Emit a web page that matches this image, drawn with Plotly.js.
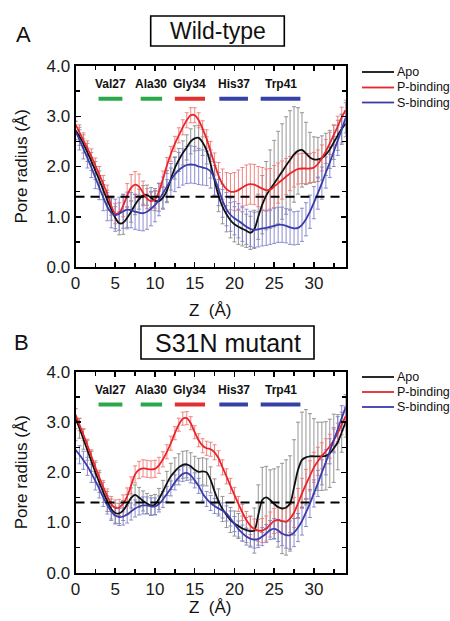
<!DOCTYPE html>
<html>
<head>
<meta charset="utf-8">
<script src="https://cdn.plot.ly/plotly-3.0.1.min.js"></script>
<style>html,body{margin:0;padding:0;background:#fff;}#chart{width:450px;height:621px;}</style>
</head>
<body>
<div id="chart"></div>
<script>
// ---------- DATA ----------
const z = [0,0.5,1,1.5,2,2.5,3,3.5,4,4.5,5,5.5,6,6.5,7,7.5,8,8.5,9,9.5,10,10.5,11,11.5,12,12.5,13,13.5,14,14.5,15,15.5,16,16.5,17,17.5,18,18.5,19,19.5,20,20.5,21,21.5,22,22.5,23,23.5,24,24.5,25,25.5,26,26.5,27,27.5,28,28.5,29,29.5,30,30.5,31,31.5,32,32.5,33,33.5,34];

const seriesNames = ["Apo", "P-binding", "S-binding"];

// Panel A: Wild-type
const wtApo = [2.72,2.6,2.45,2.28,2.1,1.92,1.73,1.53,1.33,1.15,
  0.98,0.87,0.88,0.98,1.1,1.24,1.35,1.42,1.43,1.38,
  1.32,1.31,1.38,1.52,1.75,1.97,2.13,2.27,2.38,2.5,
  2.56,2.57,2.48,2.32,2.05,1.72,1.42,1.2,1.05,0.93,
  0.85,0.8,0.76,0.72,0.68,0.75,1.0,1.24,1.42,1.55,
  1.66,1.78,1.9,2.02,2.13,2.24,2.31,2.33,2.26,2.18,
  2.14,2.14,2.17,2.24,2.34,2.48,2.62,2.75,2.85];
const wtApoErr = [0.18,0.18,0.18,0.18,0.18,0.18,0.18,0.19,0.2,0.22,
  0.22,0.23,0.23,0.22,0.21,0.2,0.2,0.2,0.2,0.2,
  0.2,0.2,0.21,0.22,0.22,0.22,0.23,0.24,0.25,0.25,
  0.25,0.25,0.26,0.27,0.28,0.3,0.32,0.34,0.35,0.35,
  0.35,0.35,0.34,0.33,0.33,0.38,0.45,0.58,0.68,0.78,
  0.86,0.92,0.95,0.97,0.98,0.95,0.86,0.74,0.62,0.5,
  0.45,0.44,0.44,0.42,0.38,0.34,0.3,0.28,0.26];
const wtP = [2.84,2.68,2.52,2.36,2.2,2.02,1.84,1.65,1.45,1.22,
  1.06,1.08,1.22,1.42,1.58,1.64,1.6,1.48,1.36,1.31,
  1.34,1.5,1.75,2.02,2.25,2.45,2.62,2.78,2.92,3.02,
  3.02,2.92,2.75,2.55,2.3,2.05,1.82,1.65,1.55,1.5,
  1.5,1.53,1.58,1.63,1.65,1.64,1.6,1.56,1.53,1.54,
  1.6,1.67,1.73,1.8,1.86,1.91,1.95,1.96,1.96,1.96,
  1.98,2.05,2.17,2.3,2.46,2.63,2.8,2.98,3.12];
const wtPErr = [0.15,0.15,0.15,0.15,0.15,0.15,0.16,0.17,0.18,0.19,
  0.2,0.2,0.22,0.24,0.26,0.26,0.25,0.23,0.2,0.18,
  0.17,0.17,0.16,0.16,0.15,0.15,0.15,0.15,0.15,0.15,
  0.15,0.15,0.16,0.18,0.2,0.22,0.26,0.3,0.33,0.36,
  0.38,0.4,0.4,0.4,0.4,0.4,0.4,0.42,0.42,0.42,
  0.42,0.4,0.38,0.36,0.34,0.32,0.3,0.3,0.3,0.3,
  0.3,0.28,0.26,0.24,0.22,0.2,0.2,0.2,0.2];
const wtS = [2.7,2.53,2.35,2.17,1.98,1.78,1.58,1.38,1.2,1.08,
  1.03,1.06,1.11,1.14,1.13,1.1,1.08,1.07,1.1,1.16,
  1.23,1.34,1.47,1.6,1.73,1.84,1.93,1.99,2.03,2.04,
  2.03,2.0,1.98,1.96,1.9,1.76,1.55,1.32,1.15,1.04,
  0.97,0.92,0.86,0.8,0.76,0.74,0.75,0.77,0.78,0.8,
  0.82,0.84,0.84,0.82,0.79,0.77,0.78,0.84,0.95,1.1,
  1.28,1.47,1.67,1.88,2.08,2.3,2.52,2.74,2.97];
const wtSErr = [0.2,0.2,0.2,0.2,0.2,0.22,0.24,0.26,0.28,0.3,
  0.32,0.33,0.34,0.35,0.35,0.35,0.35,0.35,0.35,0.34,
  0.33,0.32,0.32,0.32,0.33,0.34,0.35,0.36,0.37,0.37,
  0.37,0.36,0.35,0.34,0.33,0.33,0.33,0.33,0.33,0.33,
  0.33,0.34,0.35,0.35,0.35,0.35,0.35,0.35,0.35,0.35,
  0.35,0.35,0.35,0.34,0.34,0.33,0.33,0.33,0.33,0.33,
  0.32,0.32,0.32,0.31,0.3,0.3,0.3,0.3,0.3];

// Panel B: S31N mutant
const mutApo = [3.07,2.88,2.66,2.44,2.22,2.0,1.8,1.6,1.42,1.27,
  1.19,1.18,1.24,1.36,1.49,1.55,1.5,1.43,1.38,1.34,
  1.36,1.47,1.62,1.78,1.92,2.02,2.1,2.15,2.16,2.12,
  2.05,2.01,2.02,2.0,1.85,1.62,1.42,1.27,1.15,1.05,
  0.98,0.93,0.88,0.85,0.83,0.84,1.15,1.45,1.5,1.45,
  1.37,1.31,1.28,1.3,1.38,1.7,2.05,2.25,2.3,2.32,
  2.32,2.32,2.32,2.33,2.38,2.48,2.6,2.8,3.0];
const mutApoErr = [0.2,0.2,0.2,0.2,0.2,0.2,0.2,0.2,0.2,0.2,
  0.2,0.2,0.2,0.2,0.2,0.2,0.2,0.2,0.2,0.2,
  0.2,0.21,0.22,0.24,0.26,0.27,0.27,0.27,0.27,0.27,
  0.27,0.27,0.27,0.27,0.26,0.25,0.25,0.25,0.25,0.25,
  0.25,0.25,0.25,0.25,0.3,0.45,0.6,0.65,0.62,0.6,
  0.7,0.8,0.9,0.95,0.95,0.95,0.95,0.95,0.95,0.85,
  0.75,0.68,0.68,0.68,0.68,0.68,0.55,0.4,0.3];
const mutP = [3.15,2.95,2.75,2.54,2.32,2.1,1.9,1.7,1.52,1.37,
  1.29,1.3,1.38,1.52,1.74,1.96,2.05,2.08,2.07,2.06,
  2.07,2.14,2.26,2.41,2.58,2.78,2.95,3.07,3.08,2.98,
  2.8,2.64,2.53,2.48,2.46,2.4,2.28,2.1,1.92,1.73,
  1.55,1.37,1.2,1.05,0.94,0.87,0.84,0.84,0.88,0.96,
  1.03,1.05,1.03,1.02,1.08,1.2,1.38,1.58,1.76,1.93,
  2.1,2.22,2.33,2.42,2.52,2.64,2.78,2.95,3.12];
const mutPErr = [0.12,0.12,0.12,0.12,0.13,0.13,0.14,0.14,0.15,0.15,
  0.16,0.16,0.17,0.17,0.17,0.17,0.17,0.17,0.17,0.17,
  0.17,0.16,0.15,0.14,0.14,0.13,0.13,0.13,0.13,0.13,
  0.13,0.13,0.14,0.14,0.14,0.15,0.15,0.15,0.15,0.15,
  0.15,0.15,0.16,0.17,0.18,0.2,0.22,0.24,0.25,0.25,
  0.25,0.25,0.26,0.27,0.28,0.3,0.3,0.3,0.3,0.3,
  0.3,0.28,0.26,0.25,0.24,0.22,0.2,0.2,0.2];
const mutS = [2.45,2.35,2.24,2.12,1.98,1.83,1.67,1.5,1.35,1.22,
  1.14,1.11,1.12,1.16,1.22,1.28,1.32,1.34,1.34,1.32,
  1.32,1.37,1.46,1.57,1.68,1.8,1.9,1.97,1.99,1.94,
  1.84,1.73,1.58,1.47,1.39,1.33,1.28,1.24,1.18,1.08,
  0.97,0.87,0.79,0.72,0.68,0.66,0.67,0.72,0.78,0.85,
  0.88,0.84,0.78,0.75,0.75,0.8,0.9,1.03,1.2,1.38,
  1.58,1.78,2.0,2.2,2.42,2.64,2.86,3.08,3.3];
const mutSErr = [0.18,0.18,0.18,0.18,0.18,0.18,0.18,0.18,0.18,0.18,
  0.17,0.17,0.17,0.17,0.17,0.17,0.17,0.17,0.17,0.17,
  0.17,0.16,0.16,0.15,0.15,0.15,0.15,0.15,0.15,0.15,
  0.15,0.15,0.15,0.15,0.15,0.15,0.15,0.15,0.15,0.15,
  0.15,0.16,0.16,0.17,0.17,0.17,0.17,0.18,0.18,0.19,
  0.2,0.22,0.24,0.26,0.28,0.28,0.28,0.28,0.28,0.28,
  0.27,0.26,0.25,0.25,0.25,0.25,0.25,0.25,0.25];

// Residue markers
const residueLabels = ["Val27", "Ala30", "Gly34", "His37", "Trp41"];
const residueStart = [2.9, 8.2, 12.5, 18.1, 23.3];
const residueEnd   = [5.9, 10.9, 16.3, 21.7, 28.3];
const residueColors = ["#2aa84a", "#2aa84a", "#e23030", "#3442a6", "#3442a6"];
const residueLabelY = 3.64;
const residueBarY = 3.35;
const waterRadius = 1.4;
const zRange = [0, 34];
const rRange = [0, 4];
const panelTitles = ["Wild-type", "S31N mutant"];
const panelLetters = ["A", "B"];

// ---------- STYLE ----------
const FONT = "Liberation Sans, Arial, Helvetica, sans-serif";
const lineColors = ["#111111", "#e8262a", "#3a3cab"];
const barColors  = ["#8a8a8a", "#f07878", "#7f80cc"];

const panels = [
  {vals: [wtApo, wtP, wtS], errs: [wtApoErr, wtPErr, wtSErr], xa: "x", ya: "y"},
  {vals: [mutApo, mutP, mutS], errs: [mutApoErr, mutPErr, mutSErr], xa: "x2", ya: "y2"}
];

const traces = [];
panels.forEach(p => {
  for (let k = 0; k < 3; k++) {
    traces.push({
      x: z, y: p.vals[k], xaxis: p.xa, yaxis: p.ya, type: "scatter", mode: "markers",
      marker: {size: 1, color: "rgba(0,0,0,0)"},
      error_y: {type: "data", array: p.errs[k], visible: true, color: barColors[k], thickness: 0.9, width: 2},
      showlegend: false, hoverinfo: "skip"
    });
  }
  for (let k = 0; k < 3; k++) {
    traces.push({
      x: z, y: p.vals[k], xaxis: p.xa, yaxis: p.ya, type: "scatter", mode: "lines",
      line: {color: lineColors[k], width: 1.8, shape: "spline", smoothing: 0.8},
      name: seriesNames[k], showlegend: false
    });
  }
});

// ---------- LAYOUT ----------
const W = 450, H = 621;
const px = v => v / W;
const py = v => 1 - v / H;
const plotLeft = 75.5, plotRight = 345.7;
const panelPix = [{top: 66, bottom: 267}, {top: 372, bottom: 572.7}];

function xAxis(anchor) {
  return {
    domain: [px(plotLeft), px(plotRight)], anchor: anchor, range: zRange,
    tick0: 0, dtick: 5, ticks: "inside", ticklen: 5, tickwidth: 1.5, tickcolor: "#000",
    minor: {dtick: 2.5, ticks: "inside", ticklen: 4, tickwidth: 1.5, tickcolor: "#000"},
    showline: true, linewidth: 2, linecolor: "#000", mirror: "allticks",
    showgrid: false, zeroline: false,
    tickfont: {family: FONT, size: 17, color: "#1a1a1a"}
  };
}
function yAxis(anchor, pp) {
  return {
    domain: [py(pp.bottom), py(pp.top)], anchor: anchor, range: rRange,
    tick0: 0, dtick: 1, tickformat: ".1f", ticks: "inside", ticklen: 5, tickwidth: 1.5, tickcolor: "#000",
    minor: {dtick: 0.5, ticks: "inside", ticklen: 4, tickwidth: 1.5, tickcolor: "#000"},
    showline: true, linewidth: 2, linecolor: "#000", mirror: "allticks",
    showgrid: false, zeroline: false,
    tickfont: {family: FONT, size: 17, color: "#1a1a1a"}
  };
}

const shapes = [];
const annotations = [];
const titleBoxes = [{x0: 150.7, x1: 284.3, y0: 16, y1: 46}, {x0: 141, x1: 314, y0: 326, y1: 359}];
const titleSizes = [23, 25];
const legendRows = [[72, 87.5, 102.5], [377, 392, 407]];
const xTitleY = [310, 607];

[0, 1].forEach(i => {
  const xr = i === 0 ? "x" : "x2";
  const yr = i === 0 ? "y" : "y2";
  const pp = panelPix[i];
  shapes.push({type: "line", xref: xr, yref: yr, x0: zRange[0], x1: zRange[1], y0: waterRadius, y1: waterRadius,
    line: {color: "#000", width: 2, dash: "9px,6px"}});
  residueLabels.forEach((lab, j) => {
    shapes.push({type: "line", xref: xr, yref: yr, x0: residueStart[j], x1: residueEnd[j], y0: residueBarY, y1: residueBarY,
      line: {color: residueColors[j], width: 4}});
    annotations.push({xref: xr, yref: yr, x: (residueStart[j] + residueEnd[j]) / 2, y: residueLabelY,
      text: "<b>" + lab + "</b>", showarrow: false, font: {family: FONT, size: 12, color: "#111"}});
  });
  const b = titleBoxes[i];
  shapes.push({type: "rect", xref: "paper", yref: "paper", x0: px(b.x0), x1: px(b.x1), y0: py(b.y1), y1: py(b.y0),
    line: {color: "#000", width: 1.6}, fillcolor: "rgba(0,0,0,0)"});
  annotations.push({xref: "paper", yref: "paper", x: px((b.x0 + b.x1) / 2), y: py((b.y0 + b.y1) / 2),
    text: panelTitles[i], showarrow: false, xanchor: "center", yanchor: "middle",
    font: {family: FONT, size: titleSizes[i], color: "#111"}});
  annotations.push({xref: "paper", yref: "paper", x: px(i === 0 ? 23 : 21), y: py(i === 0 ? 34 : 342),
    text: panelLetters[i], showarrow: false, xanchor: "center", yanchor: "middle",
    font: {family: FONT, size: 22, color: "#111"}});
  annotations.push({xref: "paper", yref: "paper", x: px(21), y: py((pp.top + pp.bottom) / 2),
    text: "Pore radius (Å)", textangle: -90, showarrow: false, xanchor: "center", yanchor: "middle",
    font: {family: FONT, size: 17, color: "#111"}});
  annotations.push({xref: "paper", yref: "paper", x: px((plotLeft + plotRight) / 2), y: py(xTitleY[i]),
    text: "Z  (Å)", showarrow: false, xanchor: "center", yanchor: "middle",
    font: {family: FONT, size: 17, color: "#111"}});
  // legend (key) for the panel
  seriesNames.forEach((nm, k) => {
    const yy = legendRows[i][k];
    shapes.push({type: "line", xref: "paper", yref: "paper", x0: px(362), x1: px(394), y0: py(yy), y1: py(yy),
      line: {color: lineColors[k], width: 1.8}});
    annotations.push({xref: "paper", yref: "paper", x: px(394.5), y: py(yy), text: nm, showarrow: false,
      xanchor: "left", yanchor: "middle", font: {family: FONT, size: 12.5, color: "#111"}});
  });
});

const layout = {
  width: W, height: H,
  margin: {l: 0, r: 0, t: 0, b: 0, pad: 0},
  paper_bgcolor: "#fff", plot_bgcolor: "#fff",
  showlegend: false,
  xaxis: xAxis("y"), yaxis: yAxis("x", panelPix[0]),
  xaxis2: xAxis("y2"), yaxis2: yAxis("x2", panelPix[1]),
  shapes: shapes,
  annotations: annotations
};

Plotly.newPlot("chart", traces, layout, {displayModeBar: false, staticPlot: true});
</script>
</body>
</html>
